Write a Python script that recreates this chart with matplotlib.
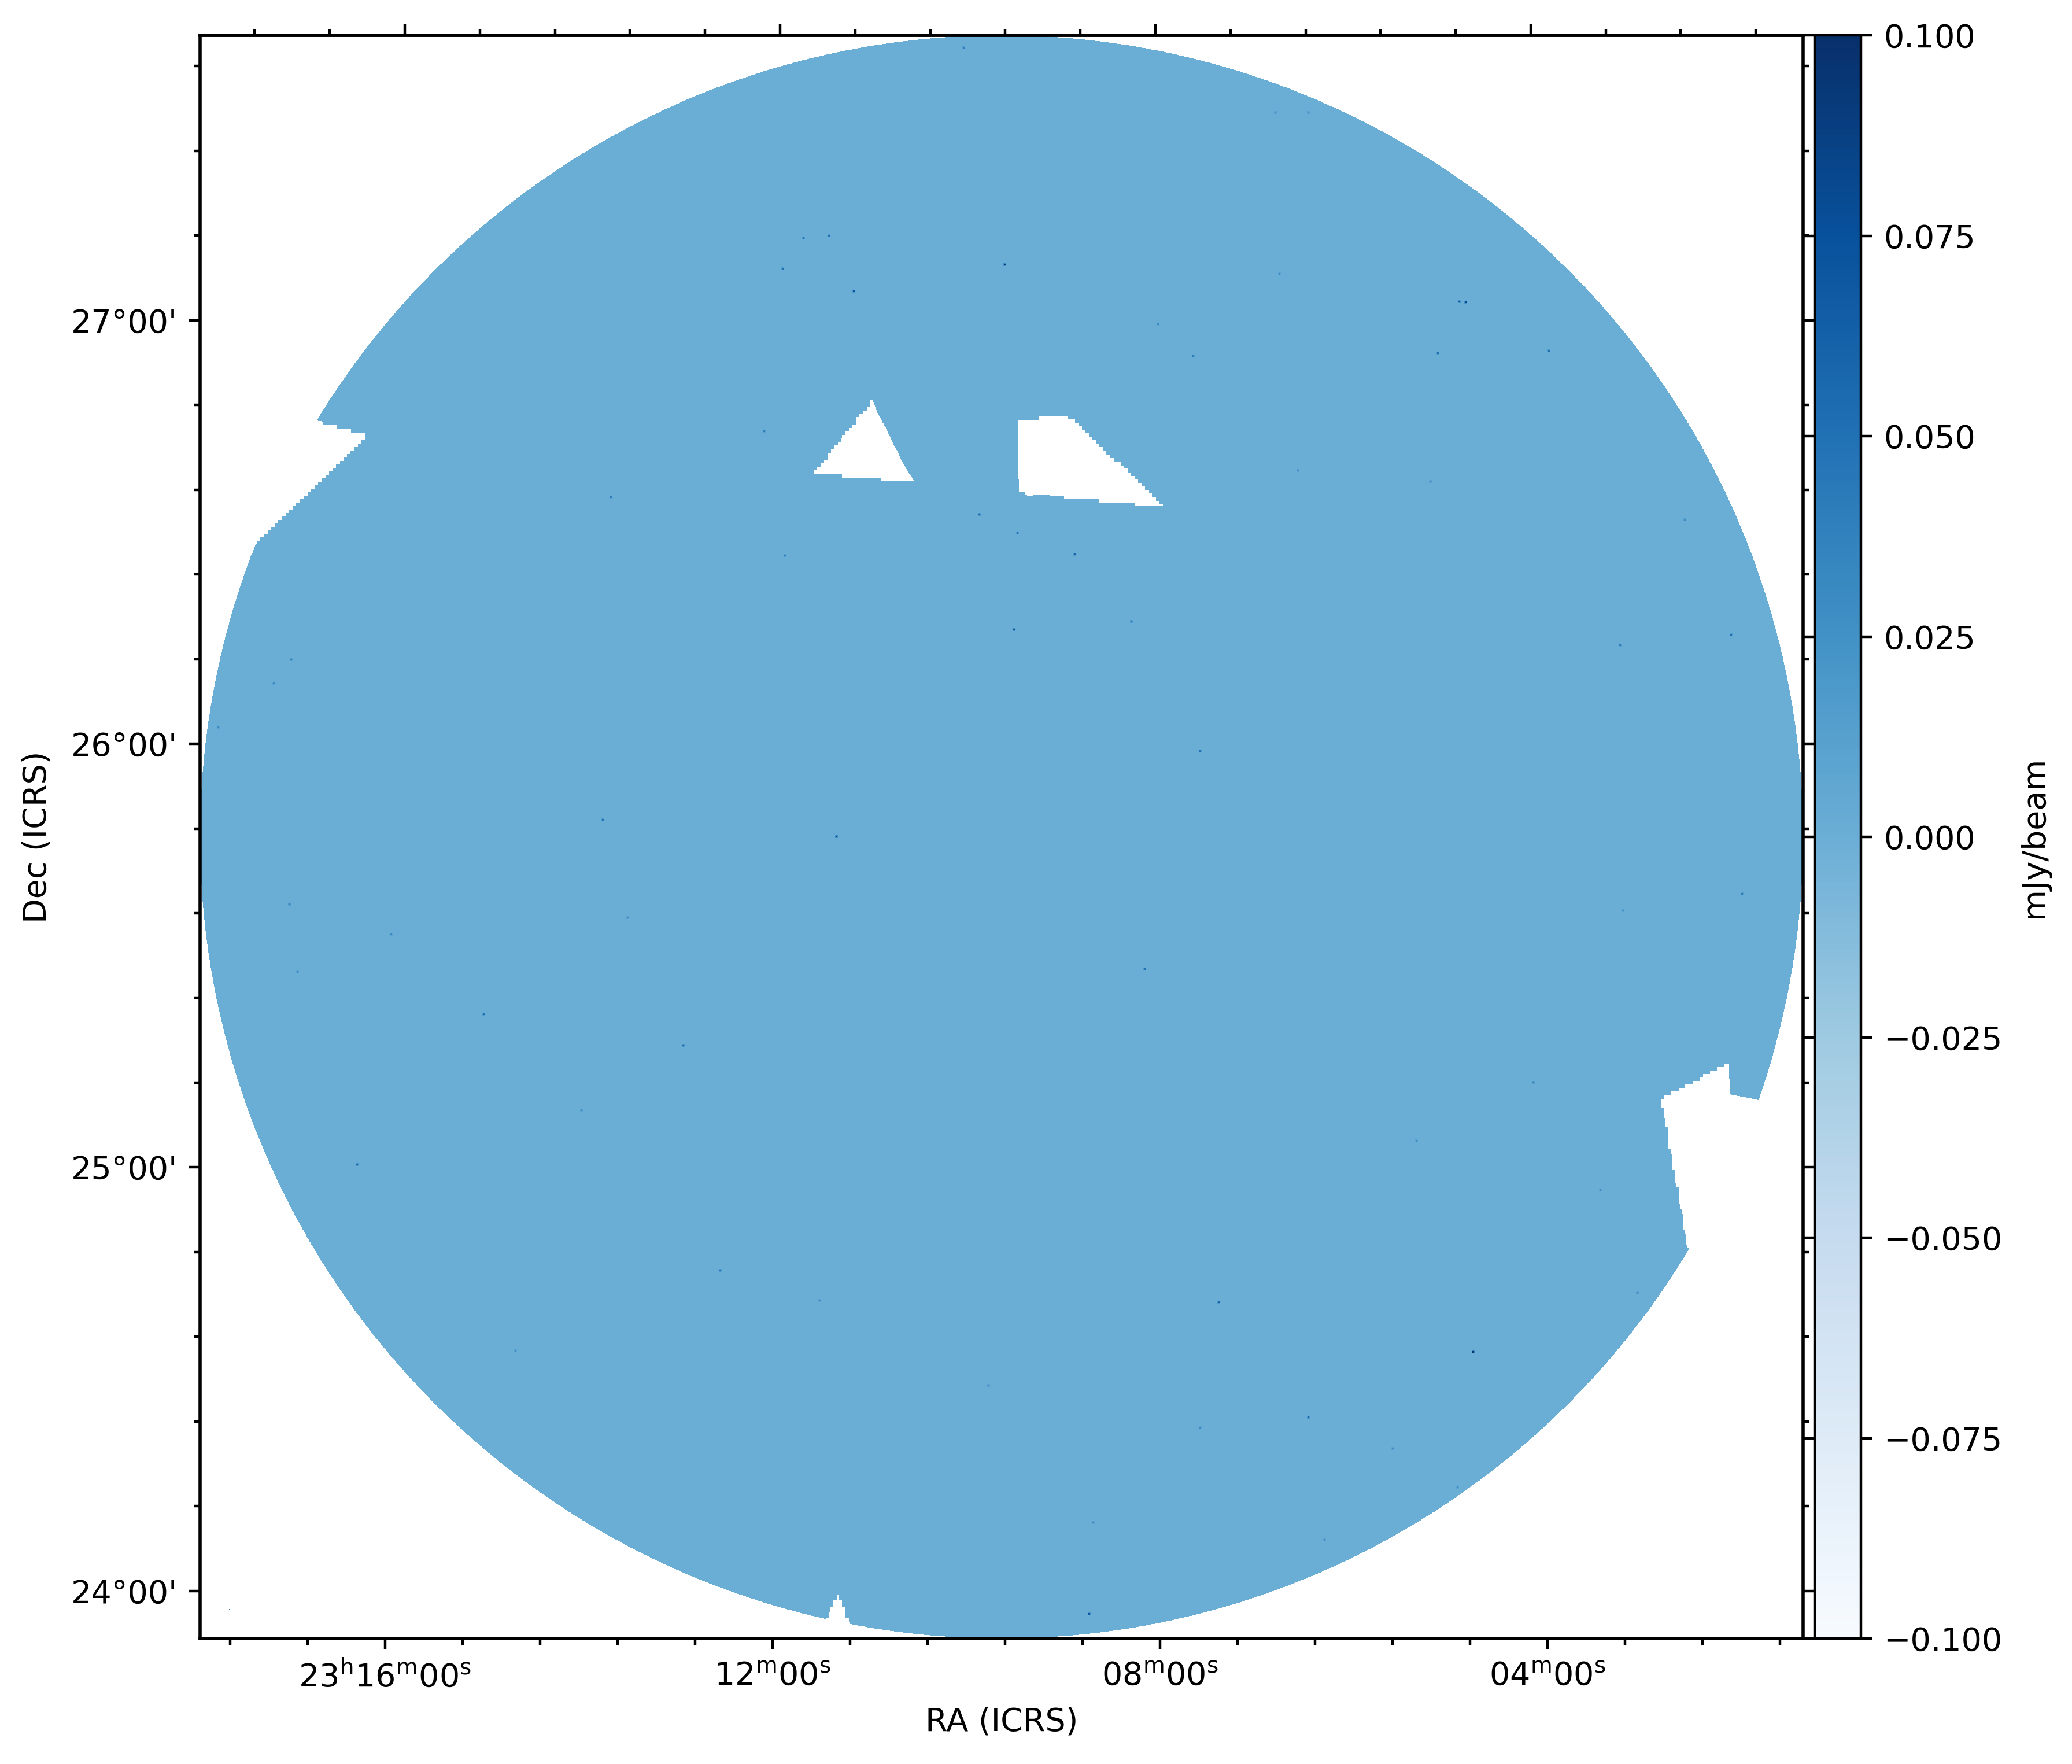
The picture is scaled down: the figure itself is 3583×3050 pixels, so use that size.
import numpy as np
import matplotlib
matplotlib.use('Agg')
import matplotlib.pyplot as plt
from matplotlib.path import Path

# image pixels of the map are taken as the pixels of the reference figure
x_left, x_right = 346, 3118
y_bottom, y_top = 2833, 61
disc_x, disc_y, disc_r = 1732, 1447, 1386

# blanked regions of the mosaic (vertices)
hole_left = [(547, 727), (552, 728), (559, 729), (558, 735), (583, 735), (583, 741), (593, 741), (593, 742),
             (607, 742), (607, 748), (631, 748), (631, 761), (625, 761), (625, 767), (619, 767), (619, 773),
             (612, 773), (612, 779), (606, 779), (606, 785), (600, 785), (600, 791), (594, 791), (594, 797),
             (588, 797), (588, 803), (581, 803), (581, 809), (575, 809), (575, 815), (569, 815), (569, 821),
             (563, 821), (563, 827), (556, 827), (556, 833), (550, 833), (550, 839), (544, 839), (544, 845),
             (538, 845), (538, 851), (532, 851), (532, 857), (525, 857), (525, 863), (519, 863), (519, 869),
             (512, 869), (512, 875), (506, 875), (506, 881), (500, 881), (500, 887), (494, 887), (494, 892),
             (488, 892), (488, 899), (481, 899), (481, 905), (475, 905), (475, 911), (469, 911), (469, 917),
             (463, 917), (463, 923), (456, 923), (456, 929), (450, 929), (450, 935), (444, 935), (444, 941),
             (442, 941), (435, 960), (300, 900), (400, 650)]
hole_tri = [(1407, 820), (1407, 813), (1413, 813), (1413, 807), (1419, 807), (1419, 801), (1425, 801),
            (1425, 795), (1431, 795), (1431, 783), (1437, 783), (1437, 776), (1443, 776), (1443, 770),
            (1449, 770), (1449, 765), (1455, 765), (1456, 752), (1462, 752), (1462, 746), (1468, 746),
            (1468, 740), (1474, 740), (1474, 734), (1480, 734), (1480, 721), (1486, 721), (1486, 716),
            (1492, 716), (1492, 710), (1499, 710), (1499, 703), (1505, 703), (1505, 691), (1509, 691),
            (1512, 700), (1518, 715), (1525, 728), (1532, 740), (1540, 757), (1545, 768), (1553, 783),
            (1561, 800), (1570, 815), (1581, 832), (1523, 832), (1523, 826), (1456, 826), (1456, 820)]
hole_trap = [(1760, 726), (1797, 726), (1797, 720), (1802, 719), (1847, 719), (1847, 725), (1859, 725),
             (1859, 731), (1865, 731), (1865, 737), (1871, 737), (1871, 743), (1877, 743), (1877, 749),
             (1883, 749), (1883, 755), (1889, 755), (1889, 761), (1896, 761), (1896, 768), (1901, 768),
             (1901, 773), (1907, 773), (1907, 779), (1913, 779), (1913, 786), (1920, 786), (1920, 792),
             (1926, 792), (1926, 798), (1938, 798), (1938, 805), (1944, 805), (1944, 810), (1950, 810),
             (1950, 817), (1956, 817), (1956, 823), (1962, 823), (1962, 829), (1968, 829), (1968, 835),
             (1974, 835), (1974, 841), (1980, 841), (1980, 847), (1987, 847), (1987, 853), (1992, 853),
             (1992, 859), (1999, 859), (1999, 866), (2005, 866), (2005, 872), (2011, 872), (2011, 875),
             (1962, 875), (1962, 869), (1901, 869), (1901, 863), (1840, 863), (1840, 857), (1792, 856),
             (1780, 857), (1773, 856), (1773, 851), (1762, 851), (1761, 807)]
hole_right = [(2872, 1900), (2878, 1900), (2878, 1894), (2890, 1894), (2890, 1887), (2903, 1887), (2903, 1882),
              (2914, 1882), (2914, 1875), (2927, 1875), (2927, 1869), (2939, 1869), (2939, 1863), (2945, 1863),
              (2945, 1857), (2957, 1857), (2957, 1851), (2969, 1851), (2969, 1845), (2982, 1845), (2982, 1839),
              (2990, 1839), (2991, 1892), (3041, 1902), (3200, 1957), (3200, 2324), (2921, 2157), (2917, 2157),
              (2915, 2140), (2914, 2126), (2911, 2126), (2909, 2090), (2905, 2090), (2903, 2053), (2898, 2053),
              (2896, 2023), (2892, 2023), (2890, 1986), (2885, 1986), (2884, 1949), (2879, 1949), (2878, 1916),
              (2872, 1916)]
hole_bottom = [(1429, 2797), (1434, 2797), (1435, 2779), (1441, 2779), (1441, 2767), (1448, 2767), (1448, 2757),
               (1450, 2757), (1450, 2767), (1456, 2767), (1456, 2779), (1462, 2779), (1462, 2797), (1468, 2797),
               (1468, 2803), (1469, 2808), (1469, 2900), (1429, 2900)]
holes = [hole_left, hole_tri, hole_trap, hole_right, hole_bottom]

# faint and bright point sources: x, y in pixels, flux in mJy/beam
src_x = [1446, 2547, 1753, 1737, 1476, 1389, 1433, 1353, 2534, 2678, 2486, 2063, 1321, 1693, 1759, 1858,
         1956, 1357, 1056, 503, 473, 377, 1042, 500, 836, 1181, 617, 1245, 1417, 2107, 2262, 1883, 2993,
         2801, 2075, 1979, 3012, 2651, 2449, 2767, 2831, 2408, 1890, 2290, 1666, 2205, 2262, 2212, 2002,
         2244, 2473, 2913, 2806, 1085, 676, 514, 1005, 1709, 2075, 891, 2520, 2523]
src_y = [1446, 2337, 1088, 457, 503, 411, 407, 464, 522, 606, 610, 615, 745, 889, 921, 958, 1074, 960,
         859, 1140, 1181, 1257, 1417, 1563, 1753, 1807, 2013, 2196, 2248, 2251, 2450, 2790, 1097, 1115,
         1298, 1675, 1545, 1871, 1972, 2057, 2235, 2504, 2632, 2662, 82, 194, 194, 473, 560, 813, 832,
         898, 1574, 1586, 1615, 1680, 1919, 2395, 2468, 2335, 2571, 521]
src_v = [0.09, 0.10, 0.08, 0.09, 0.07, 0.05, 0.05, 0.05, 0.08, 0.05, 0.05, 0.04, 0.04, 0.06, 0.05, 0.06,
         0.05, 0.04, 0.04, 0.04, 0.03, 0.03, 0.05, 0.04, 0.05, 0.06, 0.06, 0.05, 0.03, 0.06, 0.06, 0.07, 0.05,
         0.04, 0.05, 0.05, 0.04, 0.04, 0.03, 0.03, 0.03, 0.03, 0.03, 0.03, 0.04, 0.03, 0.03, 0.03, 0.03, 0.03,
         0.03, 0.03, 0.03, 0.03, 0.03, 0.03, 0.03, 0.03, 0.03, 0.03, 0.03, 0.07]

# lone pixel left outside the disc
stray_x, stray_y, stray_v = 396, 2782, 0.04

# axis ticks
ra_bottom_major = [666, 1336, 2006, 2676]
ra_bottom_minor = [398, 532, 800, 934, 1068, 1202, 1470, 1604, 1738, 1872, 2140, 2274, 2408, 2542, 2810, 2944, 3078]
ra_top_major = [700, 1349, 1998, 2647]
ra_top_minor = [440, 570, 830, 960, 1089, 1219, 1479, 1609, 1738, 1868, 2128, 2258, 2387, 2517, 2777, 2906, 3036]
dec_major = [554, 1286, 2018, 2751]
dec_minor = [114, 261, 407, 700, 847, 993, 1140, 1433, 1579, 1725, 1872, 2165, 2311, 2458, 2604]
ra_labels = ['23$^{\\mathrm{h}}$16$^{\\mathrm{m}}$00$^{\\mathrm{s}}$',
             '12$^{\\mathrm{m}}$00$^{\\mathrm{s}}$',
             '08$^{\\mathrm{m}}$00$^{\\mathrm{s}}$',
             '04$^{\\mathrm{m}}$00$^{\\mathrm{s}}$']
dec_labels = ["27°00'", "26°00'", "25°00'", "24°00'"]
cbar_ticks = [-0.1, -0.075, -0.05, -0.025, 0.0, 0.025, 0.05, 0.075, 0.1]

# build the map
xx = np.arange(x_left, x_right) + 0.5
yy = np.arange(y_top, y_bottom) + 0.5
X, Y = np.meshgrid(xx, yy)
image = np.zeros(X.shape)
blank = (X - disc_x) ** 2 + (Y - disc_y) ** 2 > disc_r ** 2
for hole in holes:
    h = np.array(hole)
    i0 = max(int(h[:, 1].min()) - y_top, 0)
    i1 = min(int(h[:, 1].max()) - y_top + 1, image.shape[0])
    j0 = max(int(h[:, 0].min()) - x_left, 0)
    j1 = min(int(h[:, 0].max()) - x_left + 1, image.shape[1])
    pts = np.column_stack([X[i0:i1, j0:j1].ravel(), Y[i0:i1, j0:j1].ravel()])
    inside = Path(h).contains_points(pts).reshape(i1 - i0, j1 - j0)
    blank[i0:i1, j0:j1] |= inside
for sx, sy, sv in zip(src_x, src_y, src_v):
    i, j = sy - y_top, sx - x_left
    image[i - 2:i + 3, j - 2:j + 3] = sv * 0.3
    image[i - 1:i + 2, j - 1:j + 2] = sv
image[stray_y - y_top, stray_x - x_left] = stray_v
blank[stray_y - y_top, stray_x - x_left] = False
image = np.ma.masked_where(blank, image)

fig = plt.figure(figsize=(8.9575, 7.625), dpi=400)
W, H = 3583, 3050
ax = fig.add_axes([x_left / W, 1 - y_bottom / H, (x_right - x_left) / W, (y_bottom - y_top) / H])
im = ax.imshow(image, cmap='Blues', vmin=-0.1, vmax=0.1, interpolation='nearest',
               extent=[x_left, x_right, y_bottom, y_top], aspect='auto')
ax.set_xlim(x_left, x_right)
ax.set_ylim(y_bottom, y_top)

ax.set_xticks(ra_bottom_major)
ax.set_xticklabels(ra_labels)
ax.set_xticks(ra_bottom_minor, minor=True)
ax.set_yticks(dec_major)
ax.set_yticklabels(dec_labels)
ax.set_yticks(dec_minor, minor=True)
ax.tick_params(which='major', length=3.5, width=0.8, right=True, pad=3.5)
ax.tick_params(which='minor', length=2, width=0.8, right=True)
ax.set_xlabel('RA (ICRS)')
ax.set_ylabel('Dec (ICRS)', labelpad=5.6)
for spine in ax.spines.values():
    spine.set_linewidth(1.0)

top = ax.secondary_xaxis('top')
top.set_xticks(ra_top_major)
top.set_xticklabels([])
top.set_xticks(ra_top_minor, minor=True)
top.tick_params(which='major', length=3.5, width=0.8)
top.tick_params(which='minor', length=2, width=0.8)
top.spines['top'].set_linewidth(1.0)

cax = fig.add_axes([3138 / W, 1 - y_bottom / H, 80 / W, (y_bottom - y_top) / H])
cbar = fig.colorbar(im, cax=cax)
cbar.set_ticks(cbar_ticks)
cbar.set_label('mJy/beam', labelpad=5.2)
cbar.ax.tick_params(left=True, right=True, length=3.5, width=0.8)

plt.savefig('out.png', dpi=400)
